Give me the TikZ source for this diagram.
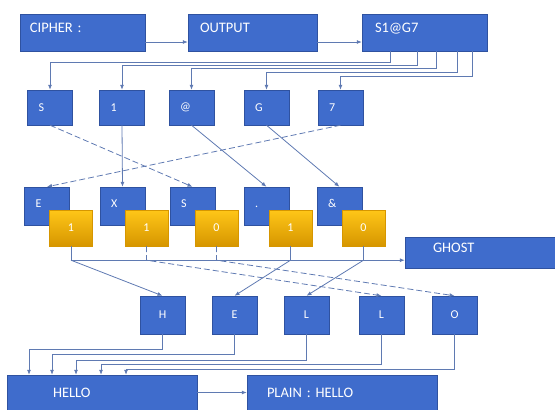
\documentclass[tikz,border=0pt]{standalone}
\usepackage{fontspec}
\setmainfont{Carlito}
\usetikzlibrary{arrows.meta,calc}

\definecolor{boxblue}{RGB}{63,108,204}
\definecolor{boxedge}{RGB}{47,82,160}
\definecolor{gold}{RGB}{255,198,24}
\definecolor{golddark}{RGB}{214,150,0}
\definecolor{wire}{RGB}{95,122,178}

\begin{document}
\begin{tikzpicture}[x=1pt, y=-1pt,
        widebox/.style={rectangle, draw=boxedge, fill=boxblue, text=white, minimum height=37pt, align=left, font=\fontsize{14.5}{16}\selectfont},
        charbox/.style={rectangle, draw=boxedge, fill=boxblue, text=white, minimum width=45pt, minimum height=38pt, font=\fontsize{12}{14}\selectfont},
        leftchar/.style={charbox, inner xsep=11pt, text width=23pt, align=left},
        bitbox/.style={rectangle, draw=golddark, top color=gold, bottom color=golddark, text=white, minimum width=43pt, minimum height=36pt, font=\fontsize{12}{14}\selectfont},
        link/.style={draw=wire, line width=0.8pt, -{Latex[length=5pt,width=4pt]}},
        hop/.style={link, dash pattern=on 6pt off 3pt}
    ]
    \useasboundingbox (0,0) rectangle (555,410);

    % Row 1
    \node[widebox, minimum width=125pt, inner xsep=10pt, text width=105pt, text height=10pt, text depth=10.5pt] (cipher) at (82.5,32.5) {CIPHER :};
    \node[widebox, minimum width=129pt, inner xsep=12pt, text width=105pt, text height=10pt, text depth=10.5pt] (output) at (252.5,32.5) {OUTPUT};
    \node[widebox, minimum width=125pt, inner xsep=13pt, text width=99pt, text height=10pt, text depth=10.5pt] (ctext) at (424.5,32.5) {S1@G7};

    \draw[link] ([yshift=-9.5pt]cipher.east) -- ([yshift=-9.5pt]output.west);
    \draw[link] ([yshift=-9.5pt]output.east) -- ([yshift=-9.5pt]ctext.west);

    % Row 2 (one box per character)
    \foreach \x/\c/\n in {50/S/a, 122/1/b, 191.5/@/c, 266.5/G/d, 340.5/7/e}
        \node[leftchar, minimum height=35pt] (key\n) at (\x,107.5) {\c};

    \foreach \dx/\dy/\n in {-34.5/11/a, -7.5/14/b, 11.5/17/c, 32.5/21/d, 47.5/25/e}
        \draw[link] ([xshift=\dx pt]ctext.south) -- ++(0,\dy) -| (key\n.north);

    % Row 3 (shuffled characters with their bits)
    \foreach \x/\c/\b/\n in {47/E/1/a, 122.5/X/1/b, 192.5/S/0/c, 266.5/./1/d, 339.5/\&/0/e} {
        \node[leftchar, text height=9pt, text depth=7pt] (mix\n) at (\x,206) {\c};
        \node[bitbox] (bit\n) at (\x+24,228) {\b};
    }

    \draw[hop] (keya.south) -- (mixc.north);
    \draw[link] (keyb.south) -- (mixb.north);
    \draw[link] (keyc.south) -- (mixd.north);
    \draw[link] (keyd.south) -- (mixe.north);
    \draw[hop] (keye.south) -- (mixa.north);

    \node[widebox, minimum width=150pt, minimum height=31pt, inner xsep=28pt, text width=94pt, text height=10pt, text depth=10.5pt] (ghost) at (480,252.5) {GHOST};

    % Row 4
    \foreach \x/\c/\n in {162.5/H/h, 234.5/E/e, 306.5/L/l, 381.5/L/m, 454.5/O/o}
        \node[charbox] (out\n) at (\x,315) {\c};

    \foreach \n in {a,b,c,d,e}
        \coordinate (tap\n) at ([yshift=-14pt]bit\n.south);

    \draw[link] (bita.south) -- (tapa) -- (ghost.west |- tapa);
    \draw[link] (tapa) -- (outh.north);
    \draw[hop] (bitb.south) -- (tapb) -- (outm.north);
    \draw[hop] (bitc.south) -- (tapc) -- (outo.north);
    \draw[link] (bitd.south) -- (tapd) -- (oute.north);
    \draw[link] (bite.south) -- (tape) -- (outl.north);

    % Row 5
    \node[widebox, minimum width=190pt, minimum height=35pt, inner xsep=46pt, text width=98pt] (hello) at (102,392.5) {HELLO};
    \node[widebox, minimum width=190pt, minimum height=35pt, inner xsep=20pt, text width=150pt] (plain) at (342,392.5) {PLAIN : HELLO};

    \foreach \n/\dy/\dx in {h/15/-73, e/20/-50, l/26/-26, m/30/-1, o/35/24}
        \draw[link] (out\n.south) -- ++(0,\dy) -| ([xshift=\dx pt]hello.north);

    \draw[link] (hello) -- (plain);

\end{tikzpicture}
\end{document}
